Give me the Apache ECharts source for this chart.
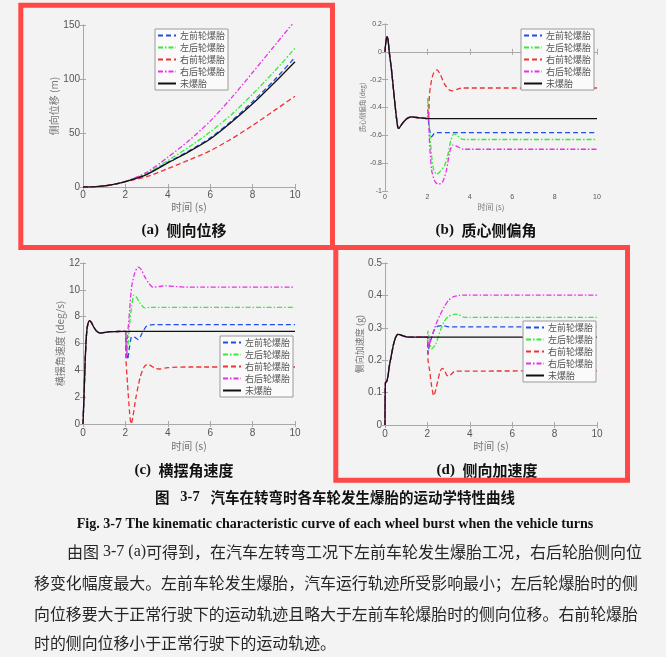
<!DOCTYPE html>
<html><head><meta charset="utf-8">
<script src="https://cdn.jsdelivr.net/npm/echarts@6/dist/echarts.min.js"></script>
<style>html,body{margin:0;padding:0;background:#f3f3f3}#c{width:666px;height:657px}</style>
</head><body><div id="c"></div>
<script>
const seriesNames = ['左前轮爆胎','左后轮爆胎','右前轮爆胎','右后轮爆胎','未爆胎'];

// (a) 侧向位移 (m)
const dispBase = [[0,0],[0.5,0.2],[1,1],[1.5,2.6],[2,5]];
const dispLF = [[3,12],[4,22.8],[5,33.5],[6,45.5],[7,61],[8,79],[9,98.5],[10,120]];
const dispLR = [[3,12.5],[4,24.5],[5,37],[6,51],[7,67],[8,86],[9,106.5],[10,128.5]];
const dispRF = [[3,9.5],[4,17],[5,25],[6,33.5],[7,44.5],[8,57],[9,70.5],[10,84]];
const dispRR = [[3,13.5],[4,27.5],[5,43],[6,61],[7,82.5],[8,106],[9,130],[10,154]];
const dispNone = [[3,11.5],[4,22.3],[5,32.8],[6,44.5],[7,60],[8,77],[9,96],[10,116]];

// (b) 质心侧偏角 (deg)
const slipBase = [[0,0],[0.04,0.07],[0.09,0.11],[0.14,0.09],[0.2,0.0],[0.3,-0.12],[0.4,-0.27],[0.5,-0.42],[0.6,-0.54],[0.65,-0.55],[0.75,-0.53],[0.9,-0.5],[1.05,-0.478],[1.25,-0.468],[1.5,-0.472],[2,-0.48]];
const slipLF = [[2.1,-0.56],[2.2,-0.61],[2.3,-0.59],[2.4,-0.58],[10,-0.58]];
const slipLR = [[2.02,-0.33],[2.1,-0.55],[2.2,-0.75],[2.3,-0.85],[2.45,-0.88],[2.6,-0.86],[2.8,-0.82],[2.95,-0.75],[3.1,-0.64],[3.25,-0.59],[3.4,-0.6],[3.6,-0.625],[3.8,-0.63],[10,-0.63]];
const slipRF = [[2.1,-0.3],[2.2,-0.2],[2.3,-0.15],[2.45,-0.13],[2.6,-0.16],[2.8,-0.23],[3.0,-0.27],[3.2,-0.28],[3.4,-0.27],[3.6,-0.26],[10,-0.26]];
const slipRR = [[2.03,-0.42],[2.1,-0.65],[2.2,-0.85],[2.35,-0.93],[2.5,-0.95],[2.7,-0.94],[2.9,-0.85],[3.05,-0.72],[3.2,-0.67],[3.4,-0.68],[3.7,-0.7],[10,-0.7]];
const slipNone = [[10,-0.48]];

// (c) 横摆角速度 (deg/s)
const yawBase = [[0,0],[0.05,2.2],[0.1,4.6],[0.15,6.3],[0.2,7.2],[0.3,7.7],[0.4,7.55],[0.5,7.25],[0.6,7.0],[0.7,6.85],[0.85,6.78],[1.0,6.82],[1.3,6.88],[2,6.9]];
const yawLF = [[2.05,5.5],[2.1,4.8],[2.2,5.8],[2.3,6.5],[2.45,6.45],[2.6,6.3],[2.8,6.8],[3.0,7.3],[3.3,7.4],[10,7.4]];
const yawLR = [[2.05,5.2],[2.1,5.5],[2.2,7.5],[2.3,8.8],[2.4,9.6],[2.5,9.5],[2.7,9.0],[2.9,8.65],[3.2,8.7],[10,8.7]];
const yawRF = [[2.02,5.0],[2.1,3.0],[2.2,0.8],[2.27,0],[2.35,0.5],[2.5,2.0],[2.7,3.5],[2.9,4.3],[3.05,4.45],[3.2,4.35],[3.4,4.15],[3.6,4.1],[4,4.2],[5,4.25],[10,4.25]];
const yawRR = [[2.05,5.0],[2.1,6.5],[2.2,8.5],[2.3,10.3],[2.45,11.3],[2.6,11.7],[2.75,11.5],[2.9,11.0],[3.1,10.5],[3.3,10.2],[3.6,10.25],[3.9,10.3],[4.3,10.25],[5,10.2],[10,10.2]];
const yawNone = [[10,6.9]];

// (d) 侧向加速度 (g)
const accBase = [[0,0],[0.02,0.13],[0.08,0.135],[0.14,0.15],[0.2,0.18],[0.3,0.215],[0.4,0.248],[0.5,0.27],[0.6,0.28],[0.7,0.279],[0.85,0.275],[1.0,0.272],[1.3,0.271],[2,0.271]];
const accLF = [[2.03,0.22],[2.1,0.25],[2.2,0.27],[2.3,0.29],[2.4,0.3],[2.5,0.305],[2.7,0.307],[3,0.303],[10,0.303]];
const accLR = [[2.02,0.29],[2.1,0.26],[2.2,0.235],[2.4,0.25],[2.6,0.29],[2.8,0.32],[3.0,0.335],[3.3,0.342],[3.5,0.34],[3.7,0.333],[4,0.332],[10,0.332]];
const accRF = [[2.03,0.2],[2.1,0.17],[2.2,0.12],[2.3,0.09],[2.4,0.11],[2.5,0.14],[2.6,0.165],[2.7,0.175],[2.8,0.17],[2.9,0.155],[3.0,0.15],[3.15,0.158],[3.3,0.166],[10,0.167]];
const accRR = [[2.03,0.24],[2.1,0.25],[2.2,0.27],[2.4,0.31],[2.6,0.34],[2.8,0.365],[3.0,0.385],[3.2,0.395],[3.5,0.4],[3.8,0.401],[10,0.401]];
const accNone = [[10,0.271]];

const colors = ['#1f4fe6','#33ee33','#ee3333','#e633e6','#111111'];
const dashes = [[5,3],[5,2,1.5,2],[5,3],[5,2,1.5,2],'solid'];

const grids = [
  {left:83, top:25, width:212, height:162},
  {left:385, top:24, width:212, height:167},
  {left:83, top:263, width:212, height:161},
  {left:385, top:263, width:212, height:162}
];
const yCfg = [
  {min:0, max:150, interval:50, name:'侧向位移 (m)', nameGap:21, nf:10, lf:10, lm:3},
  {min:-1, max:0.2, interval:0.2, name:'质心侧偏角 (deg)', nameGap:15, nf:6.5, lf:7, lm:3},
  {min:0, max:12, interval:2, name:'横摆角速度 (deg/s)', nameGap:15, nf:10, lf:10, lm:3},
  {min:0, max:0.5, interval:0.1, name:'侧向加速度 (g)', nameGap:18, nf:9, lf:10, lm:3}
];
const xCfg = [
  {nameGap:15, nf:10.5, lf:10, lm:3},
  {nameGap:12, nf:8, lf:7, lm:3},
  {nameGap:17, nf:10.5, lf:10, lm:4},
  {nameGap:16, nf:10.5, lf:10, lm:4}
];
const frame = '#a8a8a8';
const xAxes = [], yAxes = [];
grids.forEach((g, i) => {
  const xc = xCfg[i], yc = yCfg[i];
  xAxes.push({gridIndex:i, type:'value', min:0, max:10, interval:2, position:'bottom',
    name:'时间 (s)', nameLocation:'middle', nameGap:xc.nameGap,
    nameTextStyle:{color:'#777', fontSize:xc.nf, fontFamily:'Noto Sans CJK SC'},
    axisLine:{show:true, lineStyle:{color:frame, width:1}},
    axisTick:{show:true, inside:true, length:3, lineStyle:{color:frame}},
    axisLabel:{color:'#555', fontSize:xc.lf, margin:xc.lm, fontFamily:'Liberation Sans'},
    splitLine:{show:false}});
  xAxes.push({gridIndex:i, type:'value', min:0, max:10, interval:2, position:'top',
    axisLine:{show:true, lineStyle:{color:frame, width:1}},
    axisTick:{show:true, inside:true, length:3, lineStyle:{color:frame}},
    axisLabel:{show:false}, splitLine:{show:false}});
  yAxes.push({gridIndex:i, type:'value', min:yc.min, max:yc.max, interval:yc.interval, position:'left',
    name:yc.name, nameLocation:'middle', nameGap:yc.nameGap,
    nameTextStyle:{color:'#777', fontSize:yc.nf, fontFamily:'Noto Sans CJK SC'},
    axisLine:{show:true, lineStyle:{color:frame, width:1}},
    axisTick:{show:true, inside:true, length:3, lineStyle:{color:frame}},
    axisLabel:{color:'#555', fontSize:yc.lf, margin:yc.lm, fontFamily:'Liberation Sans'},
    splitLine:{show:false}});
  yAxes.push({gridIndex:i, type:'value', min:yc.min, max:yc.max, interval:yc.interval, position:'right',
    axisLine:{show:true, lineStyle:{color:frame, width:1}},
    axisTick:{show:true, inside:true, length:3, lineStyle:{color:frame}},
    axisLabel:{show:false}, splitLine:{show:false}});
});

const chartData = [
  [dispBase, [dispLF, dispLR, dispRF, dispRR, dispNone]],
  [slipBase, [slipLF, slipLR, slipRF, slipRR, slipNone]],
  [yawBase, [yawLF, yawLR, yawRF, yawRR, yawNone]],
  [accBase, [accLF, accLR, accRF, accRR, accNone]]
];
const series = [];
chartData.forEach((cd, gi) => {
  cd[1].forEach((arr, si) => {
    series.push({
      name: seriesNames[si], type:'line', xAxisIndex: gi*2, yAxisIndex: gi*2,
      data: cd[0].concat(arr), symbol:'none', smooth:0.25, animation:false,
      color: colors[si],
      lineStyle:{color:colors[si], width: si===4 ? 1.3 : 1.3, type: dashes[si]},
      z: 2
    });
  });
});

const legendPos = [[155,29],[521,29],[220,336],[523,321]];
const legends = legendPos.map(p => ({
  data: seriesNames, orient:'vertical', left:p[0], top:p[1],
  itemWidth:18, itemHeight:8, itemGap:3, padding:[2,3,2,2],
  backgroundColor:'#fafafa', borderColor:'#9a9a9a', borderWidth:1,
  selectedMode:false,
  textStyle:{fontSize:9, color:'#555', fontFamily:'Noto Sans CJK SC', padding:[0,0,0,-1]},
  itemStyle:{opacity:0}
}));

function cap(x, y, tag, label) {
  return {type:'text', left:null, x:x, y:y, z:50, style:{
    text:'{l|' + tag + '}{l|  }{z|' + label + '}', align:'center', verticalAlign:'middle',
    rich:{
      l:{fontFamily:'Liberation Serif', fontWeight:'bold', fontSize:15, fill:'#111'},
      z:{fontFamily:'Noto Sans CJK SC', fontWeight:'bold', fontSize:15, fill:'#111'}
    }}};
}
const paraStyle = {
  z:{fontFamily:'Noto Sans CJK SC', fontSize:16, fill:'#262626'},
  l:{fontFamily:'Liberation Serif', fontSize:16, fill:'#262626'}
};
const graphic = [
  {type:'rect', z:100, shape:{x:20.8, y:5.3, width:311.7, height:242.2}, style:{fill:'none', stroke:'#ff4848', lineWidth:5}},
  {type:'rect', z:100, shape:{x:335.8, y:247.5, width:291.7, height:232.8}, style:{fill:'none', stroke:'#ff4848', lineWidth:5}},
  cap(184, 230, '(a)', '侧向位移'),
  cap(486, 230, '(b)', '质心侧偏角'),
  cap(184, 470, '(c)', '横摆角速度'),
  cap(487, 470, '(d)', '侧向加速度'),
  {type:'text', x:335, y:497, z:50, style:{
    text:'{z|图}{l|   3-7   }{z|汽车在转弯时各车轮发生爆胎的运动学特性曲线}', align:'center', verticalAlign:'middle',
    rich:{
      z:{fontFamily:'Noto Sans CJK SC', fontWeight:'bold', fontSize:14.5, fill:'#111'},
      l:{fontFamily:'Liberation Serif', fontWeight:'bold', fontSize:14.5, fill:'#111'}
    }}},
  {type:'text', x:335, y:524, z:50, style:{
    text:'Fig. 3-7 The kinematic characteristic curve of each wheel burst when the vehicle turns',
    align:'center', verticalAlign:'middle', fontFamily:'Liberation Serif', fontWeight:'bold', fontSize:14.1, fill:'#111'}},
  {type:'text', x:67, y:552, z:50, style:{
    text:'{z|由图}{l| 3-7 (a)}{z|可得到，在汽车左转弯工况下左前车轮发生爆胎工况，右后轮胎侧向位}',
    align:'left', verticalAlign:'middle', rich:paraStyle}},
  {type:'text', x:34, y:583, z:50, style:{
    text:'移变化幅度最大。左前车轮发生爆胎，汽车运行轨迹所受影响最小；左后轮爆胎时的侧',
    align:'left', verticalAlign:'middle', fontFamily:'Noto Sans CJK SC', fontSize:15.9, fill:'#262626'}},
  {type:'text', x:34, y:614, z:50, style:{
    text:'向位移要大于正常行驶下的运动轨迹且略大于左前车轮爆胎时的侧向位移。右前轮爆胎',
    align:'left', verticalAlign:'middle', fontFamily:'Noto Sans CJK SC', fontSize:15.9, fill:'#262626'}},
  {type:'text', x:34, y:643, z:50, style:{
    text:'时的侧向位移小于正常行驶下的运动轨迹。',
    align:'left', verticalAlign:'middle', fontFamily:'Noto Sans CJK SC', fontSize:15.9, fill:'#262626'}}
];

const chart = echarts.init(document.getElementById('c'), null, {renderer:'canvas'});
chart.setOption({
  backgroundColor:'#f3f3f3',
  animation:false,
  grid: grids.map(g => Object.assign({containLabel:false}, g)),
  xAxis: xAxes, yAxis: yAxes,
  legend: legends,
  series: series,
  graphic: graphic
});
</script></body></html>
